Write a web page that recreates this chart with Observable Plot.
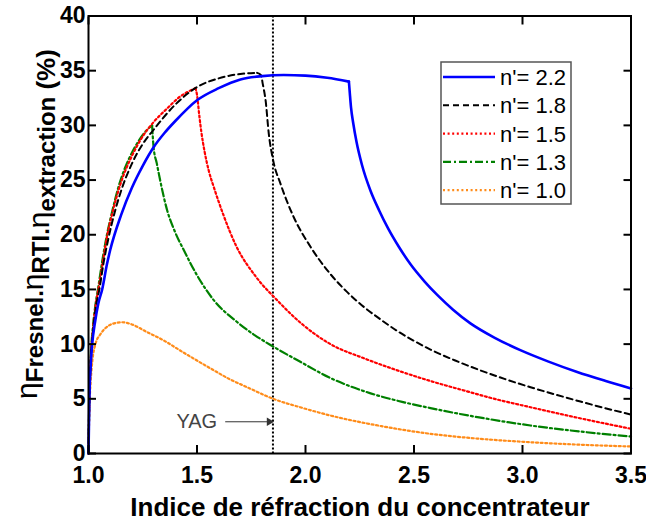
<!DOCTYPE html>
<html><head><meta charset="utf-8">
<script src="https://cdn.jsdelivr.net/npm/d3@7"></script>
<script src="https://cdn.jsdelivr.net/npm/@observablehq/plot@0.6"></script>
<style>html,body{margin:0;padding:0;background:#fff}svg{display:block}</style>
</head><body><div id="chart"></div>
<script>
// ---------- data ----------
const seriesLabels = ["n'= 2.2", "n'= 1.8", "n'= 1.5", "n'= 1.3", "n'= 1.0"];

const n22RiseX = [1.0,1.004,1.01,1.017,1.03,1.045,1.063,1.085,1.10,1.15,1.2,1.25,1.3,1.35,1.4,1.5,1.6,1.7,1.8,1.9,2.0,2.1,2.2];
const n22RiseY = [0,5,8,10,12,13.7,15,17.3,18.6,21.8,24.3,26.3,28.0,29.3,30.4,32.3,33.4,34.2,34.5,34.6,34.55,34.35,34.0];
const n22FallX = [2.2,2.204,2.21,2.22,2.235,2.26,2.30,2.34,2.38,2.43,2.484,2.55,2.607,2.68,2.76,2.87,2.99,3.12,3.252,3.38,3.5];
const n22FallY = [34.0,33.0,31.6,30.2,28.5,26.4,24.0,22.2,20.6,18.9,17.3,15.7,14.5,13.15,11.9,10.6,9.45,8.4,7.45,6.65,5.95];

const n18RiseX = [1.0,1.004,1.01,1.02,1.035,1.05,1.07,1.09,1.12,1.15,1.2,1.25,1.3,1.4,1.5,1.6,1.7,1.777];
const n18RiseY = [0,5,8.5,11,13.5,15,17.5,19.5,22,24,26.5,28.3,29.6,31.9,33.5,34.3,34.7,34.8];
const n18FallX = [1.777,1.795,1.803,1.816,1.831,1.851,1.885,1.946,2.023,2.115,2.19,2.269,2.35,2.423,2.5,2.576,2.69,2.806,2.92,3.037,3.15,3.267,3.38,3.5];
const n18FallY = [34.8,34.6,33.8,32.3,29.2,26.8,24.65,21.6,18.9,16.4,14.8,13.4,12.2,11.2,10.3,9.5,8.5,7.6,6.8,6.06,5.4,4.75,4.15,3.56];

const n15RiseX = [1.0,1.004,1.01,1.02,1.035,1.05,1.07,1.085,1.11,1.15,1.2,1.25,1.3,1.36,1.42,1.493];
const n15RiseY = [0,5,8.5,11.2,13.8,15.5,18,19.8,22,24.8,27.2,29,30.3,31.5,32.6,33.4];
const n15FallX = [1.493,1.50,1.51,1.52,1.535,1.555,1.58,1.62,1.68,1.77,1.87,1.98,2.115,2.27,2.423,2.58,2.73,2.88,3.037,3.27,3.5];
const n15FallY = [33.4,32.8,31.0,29.4,27.6,25.8,24.2,21.9,19.0,16.2,14.0,11.9,10.0,8.7,7.6,6.6,5.76,4.95,4.23,3.2,2.26];

const n13RiseX = [1.0,1.004,1.01,1.02,1.03,1.045,1.065,1.085,1.11,1.14,1.17,1.2,1.235,1.27,1.293];
const n13RiseY = [0,5,8.7,11.5,13.3,15.2,17.8,20,22.2,24.5,26.2,27.5,28.7,29.6,30.0];
const n13FallX = [1.293,1.30,1.315,1.33,1.363,1.40,1.439,1.50,1.578,1.68,1.76,1.851,1.97,2.115,2.3,2.45,2.576,2.8,3.037,3.27,3.5];
const n13FallY = [30.0,28.0,26.5,25.0,22.2,20.2,18.6,16.3,14.0,12.1,10.9,9.78,8.45,6.9,5.5,4.7,4.15,3.3,2.56,2.0,1.55];

const n10X = [1.0,1.004,1.01,1.018,1.032,1.055,1.08,1.11,1.155,1.2,1.27,1.35,1.424,1.5,1.578,1.65,1.731,1.851,1.98,2.115,2.35,2.576,2.8,3.037,3.27,3.5];
const n10Y = [0,4,6.5,8.5,10.0,10.9,11.5,11.85,12.0,11.8,11.1,10.3,9.4,8.5,7.6,6.8,6.06,5.0,4.2,3.47,2.5,1.8,1.35,1.03,0.8,0.64];

const xTicks = [1.0, 1.5, 2.0, 2.5, 3.0, 3.5];
const yTicks = [0, 5, 10, 15, 20, 25, 30, 35, 40];
const yagIndex = 1.85;
const yagLabel = "YAG";
const yagLabelAt = {x: 1.405, y: 2.9};
const yagArrowFrom = 1.63;

const xLabel = "Indice de réfraction du concentrateur";
const yLabelParts = [["η","Fresnel."],["η","RTI."],["η","extraction"]];
const yLabelUnit = " (%)";

// ---------- styles ----------
const FONT = "'Liberation Sans', Arial, Helvetica, sans-serif";
const styles = [
  {color: "#0000ff", width: 2.6, dash: null},
  {color: "#000000", width: 2, dash: "6,4"},
  {color: "#ff0000", width: 2.2, dash: "2,2.6"},
  {color: "#008000", width: 2.2, dash: "8,3,2,3"},
  {color: "#ff8c1a", width: 2.2, dash: "2,2.6"}
];

const zip = (xs, ys) => xs.map((x, i) => ({x, y: ys[i]}));
const seriesParts = [
  [zip(n22RiseX, n22RiseY), zip(n22FallX, n22FallY)],
  [zip(n18RiseX, n18RiseY), zip(n18FallX, n18FallY)],
  [zip(n15RiseX, n15RiseY), zip(n15FallX, n15FallY)],
  [zip(n13RiseX, n13RiseY), zip(n13FallX, n13FallY)],
  [zip(n10X, n10Y)]
];

const lineMarks = [];
for (let i = seriesParts.length - 1; i >= 0; i--) {
  const st = styles[i];
  for (const part of seriesParts[i]) {
    lineMarks.push(Plot.line(part, {
      x: "x", y: "y", stroke: st.color, strokeWidth: st.width,
      strokeDasharray: st.dash ?? undefined, curve: "monotone-x"
    }));
  }
}

const W = 646, H = 521;
const chart = Plot.plot({
  width: W, height: H,
  marginLeft: 88, marginRight: 15.5, marginTop: 15.5, marginBottom: 68,
  x: {domain: [1, 3.5]},
  y: {domain: [0, 40]},
  style: {fontFamily: FONT, background: "#fff", color: "#000"},
  marks: [
    Plot.ruleX([yagIndex], {stroke: "#000", strokeWidth: 2, strokeDasharray: "2,2"}),
    ...lineMarks,
    Plot.text([yagLabel], {x: yagLabelAt.x, y: yagLabelAt.y, text: d => d, textAnchor: "start", fontSize: 20, fill: "#444", fontFamily: FONT}),
    Plot.link([{x1: yagArrowFrom, x2: yagIndex - 0.02, y: yagLabelAt.y}], {x1: "x1", x2: "x2", y1: "y", y2: "y", stroke: "#333", strokeWidth: 1}),
    Plot.dot([{x: yagIndex - 0.017, y: yagLabelAt.y}], {x: "x", y: "y", symbol: "triangle2", rotate: 90, r: 4, fill: "#333"}),
    Plot.axisX(xTicks, {anchor: "bottom", tickSize: -8, tickPadding: 21, strokeWidth: 2, tickFormat: d3.format(".1f"), fontSize: 23, fontWeight: "bold", label: null}),
    Plot.axisX(xTicks, {anchor: "top", tickSize: -8, strokeWidth: 2, tickFormat: () => "", label: null}),
    Plot.axisY(yTicks, {anchor: "left", tickSize: -8, tickPadding: 11, strokeWidth: 2, tickFormat: d3.format("d"), fontSize: 23, fontWeight: "bold", label: null}),
    Plot.axisY(yTicks, {anchor: "right", tickSize: -8, strokeWidth: 2, tickFormat: () => "", label: null}),
    Plot.frame({stroke: "#000", strokeWidth: 2})
  ]
});
document.getElementById("chart").append(chart);

// ---------- labels & legend ----------
const svg = d3.select(chart);
svg.append("text")
  .attr("x", 360).attr("y", 516)
  .attr("text-anchor", "middle")
  .style("font-family", FONT).style("font-size", "26px").style("font-weight", "bold")
  .text(xLabel);

const ylab = svg.append("text")
  .attr("transform", "translate(37,224) rotate(-90)")
  .attr("text-anchor", "middle")
  .style("font-family", FONT).attr("fill", "#000");
for (const [g, sub] of yLabelParts) {
  ylab.append("tspan").attr("dy", 0).style("font-size", "30px").style("font-weight", "normal").text(g);
  ylab.append("tspan").attr("dy", 6).style("font-size", "24px").style("font-weight", "bold").text(sub);
  ylab.append("tspan").attr("dy", -6).style("font-size", "1px").text("");
}
ylab.append("tspan").style("font-size", "26px").style("font-weight", "bold").text(yLabelUnit);

const lg = svg.append("g").attr("text-anchor", "start");
lg.append("rect").attr("x", 441).attr("y", 62).attr("width", 130).attr("height", 142)
  .attr("fill", "#fff").attr("stroke", "#555").attr("stroke-width", 1.5);
seriesLabels.forEach((lab, i) => {
  const cy = 77 + i * 28.3;
  const st = styles[i];
  lg.append("line").attr("x1", 443).attr("x2", 495).attr("y1", cy).attr("y2", cy)
    .attr("stroke", st.color).attr("stroke-width", st.width)
    .attr("stroke-dasharray", st.dash);
  lg.append("text").attr("x", 500).attr("y", cy + 8).attr("text-anchor", "start")
    .style("font-family", FONT).style("font-size", "22px").text(lab);
});
</script></body></html>
